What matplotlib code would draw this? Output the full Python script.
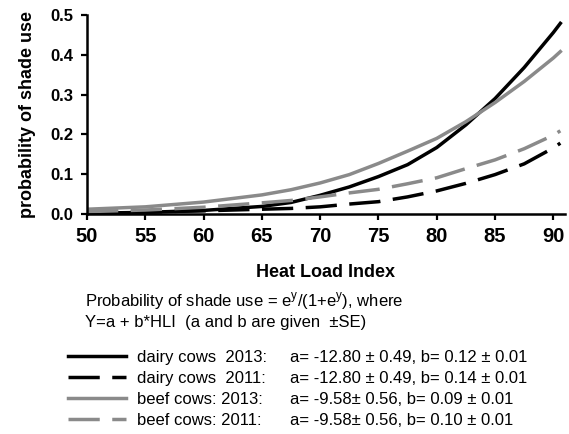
import matplotlib
matplotlib.use("Agg")
import matplotlib.pyplot as plt

hli = [50, 55, 60, 65, 67.5, 70, 72.5, 75, 77.5, 80, 82.5, 85, 87.5, 90, 90.6]

# probability of shade use per group
dairy_2013 = [0.002, 0.004, 0.009, 0.019, 0.029, 0.047, 0.068, 0.094, 0.124, 0.167, 0.224, 0.290, 0.368, 0.456, 0.479]
dairy_2011 = [0.003, 0.005, 0.008, 0.012, 0.014, 0.018, 0.025, 0.031, 0.043, 0.058, 0.077, 0.099, 0.126, 0.166, 0.178]
beef_2013 = [0.012, 0.018, 0.030, 0.048, 0.061, 0.078, 0.099, 0.127, 0.158, 0.190, 0.232, 0.280, 0.333, 0.392, 0.408]
beef_2011 = [0.006, 0.010, 0.017, 0.028, 0.034, 0.043, 0.053, 0.062, 0.076, 0.091, 0.114, 0.136, 0.164, 0.198, 0.209]

labels = ["dairy cows  2013:", "dairy cows  2011:", "beef cows: 2013:", "beef cows: 2011:"]
params = ["a= -12.80 \u00b1 0.49, b= 0.12 \u00b1 0.01",
          "a= -12.80 \u00b1 0.49, b= 0.14 \u00b1 0.01",
          "a= -9.58\u00b1 0.56, b= 0.09 \u00b1 0.01",
          "a= -9.58\u00b1 0.56, b= 0.10 \u00b1 0.01"]

x_ticks = [50, 55, 60, 65, 70, 75, 80, 85, 90]
y_ticks = [0.0, 0.1, 0.2, 0.3, 0.4, 0.5]

plt.rcParams['font.family'] = ['Liberation Sans', 'DejaVu Sans']
narrow = ['Liberation Sans Narrow', 'Liberation Sans', 'DejaVu Sans']

fig = plt.figure(figsize=(5.69, 4.34), dpi=100)
ax = fig.add_axes([87 / 569, 1 - 214 / 434, (565 - 87) / 569, (214 - 15) / 434])

gray = '#8a8a8a'
dash = (9, 3.6)
lw = 2.5
l1, = ax.plot(hli, dairy_2013, color='black', lw=lw)
l2, = ax.plot(hli, dairy_2011, color='black', lw=lw, dashes=dash)
l3, = ax.plot(hli, beef_2013, color=gray, lw=lw)
l4, = ax.plot(hli, beef_2011, color=gray, lw=lw, dashes=dash)

ax.set_xlim(50, 91)
ax.set_ylim(0, 0.5)
ax.set_xticks(x_ticks)
ax.set_yticks(y_ticks)
ax.set_yticklabels([f"{v:.1f}" for v in y_ticks], fontsize=12, fontweight='bold')
ax.set_xticklabels([str(v) for v in x_ticks], fontsize=14.5, fontweight='bold', family=narrow)
for s in ['top', 'right']:
    ax.spines[s].set_visible(False)
for s in ['left', 'bottom']:
    ax.spines[s].set_linewidth(1.8)
ax.tick_params(width=1.6, length=4, direction='out')
ax.tick_params(axis='y', pad=6)
ax.tick_params(axis='x', pad=5)

ax.set_xlabel("Heat Load Index", fontsize=13, fontweight='bold', labelpad=13)
ax.set_ylabel("probability of shade use", fontsize=13, fontweight='bold', labelpad=10)

fig.text(85 / 569, 1 - 301 / 434, "Probability of shade use = e$^\\mathregular{y}$/(1+e$^\\mathregular{y}$), where",
         fontsize=12, va='center', ha='left')
fig.text(85 / 569, 1 - 323 / 434, "Y=a + b*HLI  (a and b are given  \u00b1SE)",
         fontsize=12, va='center', ha='left')

leg = fig.legend([l1, l2, l3, l4], labels, loc='upper left',
                 bbox_to_anchor=(68 / 569, 1 - 350 / 434), frameon=False,
                 fontsize=12, handlelength=3.5, handletextpad=0.65,
                 borderpad=0, borderaxespad=0, labelspacing=0.36)

# put parameter strings on the same rows as the legend entries
fig.canvas.draw()
inv = fig.transFigure.inverted()
for txt, p in zip(leg.get_texts(), params):
    bb = txt.get_window_extent()
    yc = inv.transform((0, (bb.y0 + bb.y1) / 2))[1]
    fig.text(290 / 569, yc, p, fontsize=12, va='center', ha='left')

fig.savefig("out.png", dpi=100)
